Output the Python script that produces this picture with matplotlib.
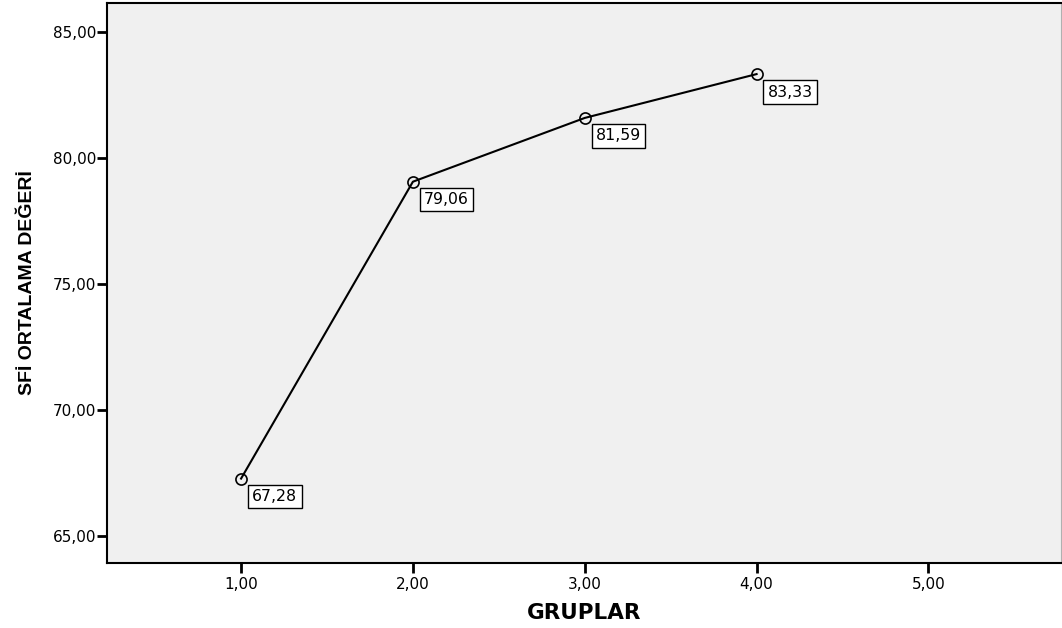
import matplotlib
matplotlib.use('Agg')
import matplotlib.pyplot as plt
from matplotlib.ticker import FuncFormatter

gruplar = [1, 2, 3, 4]
sfi_ortalama = [67.28, 79.06, 81.59, 83.33]
x_ticks = [1, 2, 3, 4, 5]
y_ticks = [65, 70, 75, 80, 85]

def virgul(v, pos):
    return f'{v:.2f}'.replace('.', ',')

plt.rcParams['font.family'] = ['DejaVu Sans']

fig = plt.figure(figsize=(10.62, 6.28), dpi=100)
ax = fig.add_axes([0.1008, 0.1035, 0.898, 0.8917])
ax.set_facecolor('#f0f0f0')

ax.plot(gruplar, sfi_ortalama, color='black', linewidth=1.5, marker='o',
        markersize=8, markerfacecolor='none', markeredgecolor='black', markeredgewidth=1.2)

for gx, gy in zip(gruplar, sfi_ortalama):
    ax.annotate(virgul(gy, None), (gx, gy), xytext=(8, -7.5), textcoords='offset points',
                ha='left', va='top', fontsize=11.3,
                bbox=dict(boxstyle='square,pad=0.27', facecolor='white', edgecolor='black', linewidth=1))

ax.set_xlim(0.22, 5.77)
ax.set_ylim(63.93, 86.15)
ax.set_xticks(x_ticks)
ax.set_yticks(y_ticks)
ax.xaxis.set_major_formatter(FuncFormatter(virgul))
ax.yaxis.set_major_formatter(FuncFormatter(virgul))
ax.tick_params(axis='both', direction='out', length=7, width=2, labelsize=11)
ax.tick_params(axis='y', pad=1)
ax.tick_params(axis='x', pad=3)

for side in ['left', 'bottom', 'top']:
    ax.spines[side].set_linewidth(1.5)
ax.spines['right'].set_color('#b0b0b0')

ax.set_xlabel('GRUPLAR', fontsize=15.5, fontweight='bold', labelpad=8)
ax.set_ylabel('SFİ ORTALAMA DEĞERİ', fontsize=14, fontweight='bold', labelpad=12,
              family='Liberation Sans')

plt.savefig('out.png', dpi=100)
